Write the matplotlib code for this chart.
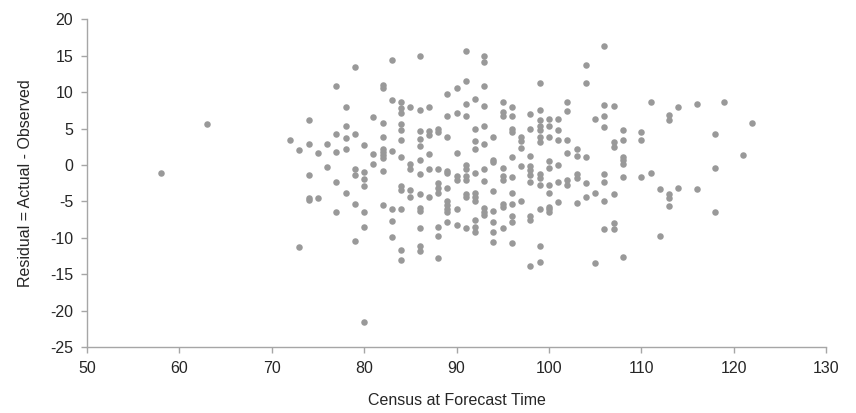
import matplotlib.pyplot as plt

# census value at forecast time and the residuals observed at that census
census = [58, 63, 72, 73, 74, 75, 76, 77, 78, 79, 80, 81, 82, 83, 84, 85, 86,
          87, 88, 89, 90, 91, 92, 93, 94, 95, 96, 97, 98, 99, 100, 101, 102,
          103, 104, 105, 106, 107, 108, 110, 111, 112, 113, 114, 116, 118,
          119, 121, 122]

residuals = [
    [-1.1],
    [5.7],
    [3.5],
    [2.1, -11.2],
    [6.2, 2.9, -1.4, -4.5, -4.8],
    [1.6, -4.5],
    [2.9, -0.3],
    [10.9, 4.3, 1.8, -2.3, -6.4],
    [8.0, 5.4, 3.7, 2.2, -3.9],
    [13.4, 4.3, -0.6, -1.4, -5.3, -10.5],
    [2.8, -1.0, -1.9, -2.9, -6.4, -8.5, -21.6],
    [6.6, 1.5, 0.2],
    [11.0, 10.6, 5.8, 3.9, 2.2, 1.8, 1.4, 0.9, -0.8, -5.5],
    [14.4, 8.9, 1.9, -6.1, -7.7, -9.9],
    [8.7, 7.8, 7.1, 5.6, 4.8, 3.4, 1.1, -2.9, -3.4, -6.1, -11.7, -13.0],
    [7.9, 0.2, -0.5, -3.4, -4.4],
    [15.0, 7.5, 4.7, 3.6, 2.6, 0.7, -1.2, -4.0, -5.9, -6.3, -8.7, -11.1, -11.8],
    [7.9, 4.7, 4.1, 1.5, -0.5, -4.4],
    [4.9, 4.6, -0.5, -2.5, -3.2, -3.9, -8.5, -9.7, -12.8],
    [9.7, 6.7, 3.8, -0.8, -1.1, -3.2, -4.9, -5.5, -6.1, -6.5, -7.8],
    [10.6, 7.1, 1.6, -1.5, -2.0, -6.1, -8.3],
    [15.6, 11.6, 8.4, 6.7, 0.0, -0.5, -1.5, -2.1, -4.0, -4.4, -8.7],
    [9.0, 5.0, 3.3, 2.2, -1.1, -3.8, -4.4, -5.0, -7.6, -8.5, -9.2],
    [15.0, 14.1, 10.8, 8.1, 5.4, 2.9, -0.5, -2.2, -5.9, -6.4, -6.9],
    [3.8, 0.7, 0.4, -3.6, -6.3, -7.8, -9.2, -10.6],
    [8.7, 7.3, 6.8, -0.4, -1.5, -2.1, -5.3, -5.7, -8.6],
    [7.9, 6.7, 4.9, 4.5, 1.1, -1.6, -3.9, -5.4, -7.0, -7.8, -10.7],
    [3.8, 3.3, 2.3, -0.1, -5.0],
    [7.0, 4.9, 1.3, -0.2, -0.7, -1.4, -2.3, -7.0, -7.6, -13.9],
    [11.2, 7.6, 6.2, 5.4, 4.8, 3.8, 3.1, -1.3, -1.8, -2.7, -6.0, -11.1, -13.3],
    [6.3, 5.4, 3.8, 0.5, -0.4, -2.7, -3.9, -5.7, -6.1, -6.5],
    [6.3, 4.8, 3.4, 0.0, -2.4, -5.1],
    [8.7, 7.4, 3.4, 1.6, -2.1, -2.7],
    [2.2, 1.2, -1.3, -1.8, -5.2],
    [13.8, 11.3, 1.1, -2.5, -4.4],
    [6.3, -3.8, -13.4],
    [16.3, 8.2, 6.7, 5.2, -1.3, -2.4, -4.9, -8.8],
    [8.1, 3.1, 2.5, -4.0, -7.9, -8.8],
    [4.8, 3.5, 1.1, 0.7, 0.1, -1.6, -12.7],
    [4.5, 3.5, -1.6],
    [8.7, -1.1],
    [-3.3, -9.8],
    [6.9, 6.2, -4.0, -4.6, -5.6],
    [7.9, -3.1],
    [8.4, -3.3],
    [4.3, -0.4, -6.4],
    [8.6],
    [1.4],
    [5.8],
]

x_ticks = [50, 60, 70, 80, 90, 100, 110, 120, 130]
y_ticks = [20, 15, 10, 5, 0, -5, -10, -15, -20, -25]

xs = []
ys = []
for c, vals in zip(census, residuals):
    for v in vals:
        xs.append(c)
        ys.append(v)

plt.rcParams['font.family'] = ['Liberation Sans', 'DejaVu Sans']
plt.rcParams['axes.unicode_minus'] = False

fig = plt.figure(figsize=(8.56, 4.13), dpi=100)
ax = fig.add_axes([0.1016, 0.1598, 0.8634, 0.7932])

ax.scatter(xs, ys, s=22, color='#999999', linewidths=0, zorder=3)

ax.set_xlim(50, 130)
ax.set_ylim(-25, 20)
ax.set_xticks(x_ticks)
ax.set_yticks(y_ticks)

for side in ['top', 'right']:
    ax.spines[side].set_visible(False)
for side in ['left', 'bottom']:
    ax.spines[side].set_color('#a6a6a6')
    ax.spines[side].set_linewidth(1.0)

ax.tick_params(axis='both', colors='#a6a6a6', labelcolor='#262626',
               labelsize=11.5, length=4, width=1.0, direction='out')
ax.tick_params(axis='x', pad=6)
ax.tick_params(axis='y', pad=6)

ax.set_xlabel('Census at Forecast Time', fontsize=11.5, color='#262626',
              labelpad=12)
ax.set_ylabel('Residual = Actual - Observed', fontsize=11.5, color='#262626',
              labelpad=12)

fig.savefig('out.png', dpi=100)
